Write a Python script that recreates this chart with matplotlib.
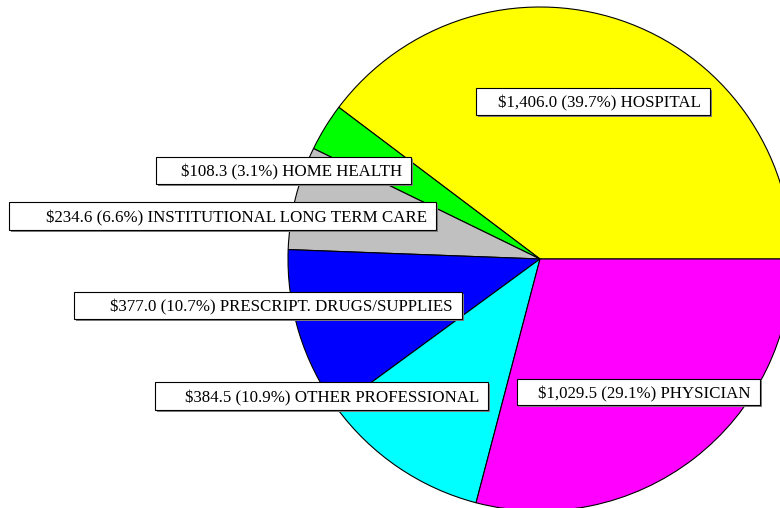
import matplotlib.pyplot as plt
from matplotlib.patches import Rectangle

# Spending by category (dollars, percent share)
categories = ["HOSPITAL", "HOME HEALTH", "INSTITUTIONAL LONG TERM CARE",
              "PRESCRIPT. DRUGS/SUPPLIES", "OTHER PROFESSIONAL", "PHYSICIAN"]
amounts = [1406.0, 108.3, 234.6, 377.0, 384.5, 1029.5]
percents = [39.7, 3.1, 6.6, 10.7, 10.9, 29.1]
colors = ["#ffff00", "#00ff00", "#c0c0c0", "#0000ff", "#00ffff", "#ff00ff"]

# label boxes (left x, right x, top y, bottom y) in pixels from top-left
label_boxes = [(476, 710, 88, 115), (156, 411, 157, 184), (9, 436, 202, 230),
               (74, 462, 292, 319), (155, 488, 382, 410), (517, 760, 379, 405)]

W, H = 780, 508
fig = plt.figure(figsize=(W / 100, H / 100), dpi=100)
ax = fig.add_axes([0, 0, 1, 1])

ax.pie(amounts, colors=colors, startangle=0, counterclock=True,
       center=(540, H - 259), radius=252, frame=True,
       wedgeprops=dict(edgecolor="black", linewidth=0.8))
ax.set_xlim(0, W)
ax.set_ylim(0, H)
ax.set_aspect("equal")
ax.axis("off")

for name, amt, pct, (x0, x1, y0, y1) in zip(categories, amounts, percents, label_boxes):
    # grey drop shadow, then white box
    ax.add_patch(Rectangle((x0 + 2, H - y1 - 2), x1 - x0, y1 - y0,
                           fc="#808080", ec="none", zorder=4))
    ax.add_patch(Rectangle((x0, H - y1), x1 - x0, y1 - y0,
                           fc="white", ec="black", lw=0.8, zorder=5))
    ax.text(x1 - 9, H - (y0 + y1) / 2, f"${amt:,.1f} ({pct}%) {name}",
            ha="right", va="center_baseline", zorder=6,
            fontsize=12.2, family="Liberation Serif", color="black")

fig.savefig("out.png", dpi=100)
